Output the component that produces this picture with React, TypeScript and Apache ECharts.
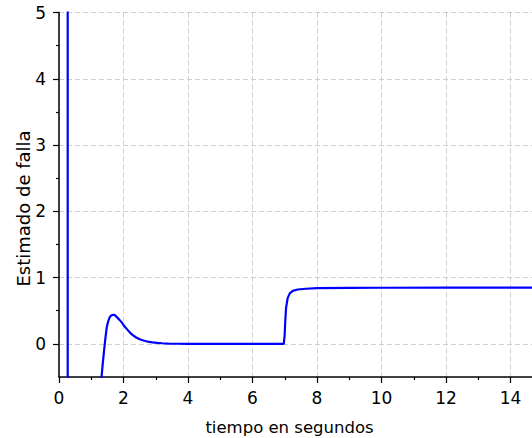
import React, { useEffect, useRef } from "react";
import * as echarts from "echarts";

// time (s) and fault estimate
const timeSeconds = [
  0, 0.27, 0.27, 1.25, 1.32, 1.36, 1.4, 1.44, 1.48, 1.52, 1.56, 1.6, 1.65, 1.69, 1.74, 1.8,
  1.87, 1.95, 2.03, 2.12, 2.2, 2.28, 2.38, 2.5, 2.62, 2.74, 2.9, 3.05, 3.2, 3.4, 3.67, 4.0,
  4.5, 6.97, 7.0, 7.01, 7.04, 7.09, 7.16, 7.25, 7.4, 7.66, 8.0, 9.0, 10, 12, 14, 16,
];
const faultEstimate = [
  40, 40, -40, -1.2, -0.5, -0.28, -0.09, 0.09, 0.25, 0.33, 0.39, 0.42, 0.435, 0.44, 0.43, 0.4,
  0.366, 0.32, 0.265, 0.215, 0.17, 0.135, 0.1, 0.07, 0.05, 0.035, 0.022, 0.014, 0.009, 0.005,
  0.002, 0.001, 0, 0, 0.15, 0.29, 0.54, 0.69, 0.765, 0.8, 0.82, 0.832, 0.84, 0.845, 0.847,
  0.848, 0.848, 0.848,
];
const xTickLabels = [0, 2, 4, 6, 8, 10, 12, 14];
const yMajorTicks = [0, 1, 2, 3, 4, 5];
const yMinorTicks = [0.5, 1.5, 2.5, 3.5, 4.5];
const xTitle = "tiempo en segundos";
const yTitle = "Estimado de falla";

const FONT = "DejaVu Sans";

export default function App() {
  const ref = useRef<HTMLDivElement>(null);
  useEffect(() => {
    if (!ref.current) return;
    const chart = echarts.init(ref.current, undefined, { renderer: "svg" });
    const data = timeSeconds.map((t, i) => [t, faultEstimate[i]]);
    const axisLine = { show: true, onZero: false, lineStyle: { color: "#000", width: 1.5 } };
    chart.setOption({
      animation: false,
      backgroundColor: "#fff",
      grid: { left: 59, right: 25, top: 12.5, bottom: 61, containLabel: false },
      xAxis: {
        type: "value",
        min: 0,
        max: 16,
        interval: 2,
        axisLine,
        axisTick: { show: true, inside: false, length: 6, lineStyle: { color: "#000", width: 1.2 } },
        minorTick: { show: true, splitNumber: 2, length: 3, lineStyle: { color: "#000", width: 1.2 } },
        axisLabel: {
          color: "#000",
          fontFamily: FONT,
          fontSize: 17,
          margin: 12,
          customValues: xTickLabels,
        },
        splitLine: { show: true, lineStyle: { color: "#cfcfcf", type: [5, 3], width: 1 } },
      },
      yAxis: [
        {
          type: "value",
          position: "left",
          min: -0.5,
          max: 5,
          interval: 0.5,
          axisLine,
          axisTick: {
            show: true,
            inside: false,
            length: 6,
            customValues: yMajorTicks,
            lineStyle: { color: "#000", width: 1.2 },
          },
          axisLabel: {
            color: "#000",
            fontFamily: FONT,
            fontSize: 17,
            margin: 13,
            customValues: yMajorTicks,
          },
          splitLine: { show: true, lineStyle: { color: "#cfcfcf", type: [5, 3], width: 1 } },
        },
        {
          type: "value",
          position: "left",
          offset: 0,
          min: -0.5,
          max: 5,
          interval: 0.5,
          axisLine: { show: false, onZero: false },
          axisTick: {
            show: true,
            inside: false,
            length: 3,
            customValues: yMinorTicks,
            lineStyle: { color: "#000", width: 1.2 },
          },
          axisLabel: { show: false },
          splitLine: { show: false },
        },
      ],
      graphic: [
        {
          type: "text",
          x: 289.5,
          y: 427,
          style: {
            text: xTitle,
            fill: "#000",
            font: `16.5px '${FONT}'`,
            align: "center",
            verticalAlign: "middle",
          },
        },
        {
          type: "text",
          x: 23,
          y: 208.5,
          rotation: Math.PI / 2,
          style: {
            text: yTitle,
            fill: "#000",
            font: `18px '${FONT}'`,
            align: "center",
            verticalAlign: "middle",
          },
        },
      ],
      series: [
        {
          type: "line",
          data,
          showSymbol: false,
          clip: true,
          smooth: false,
          lineStyle: { color: "#0000ff", width: 2.2 },
          itemStyle: { color: "#0000ff" },
        },
      ],
    });
    return () => chart.dispose();
  }, []);
  return (
    <div
      style={{
        position: "fixed",
        left: 0,
        top: 0,
        width: 532,
        height: 438,
        overflow: "hidden",
        background: "#fff",
      }}
    >
      <div ref={ref} style={{ width: 600, height: 438 }} />
    </div>
  );
}
